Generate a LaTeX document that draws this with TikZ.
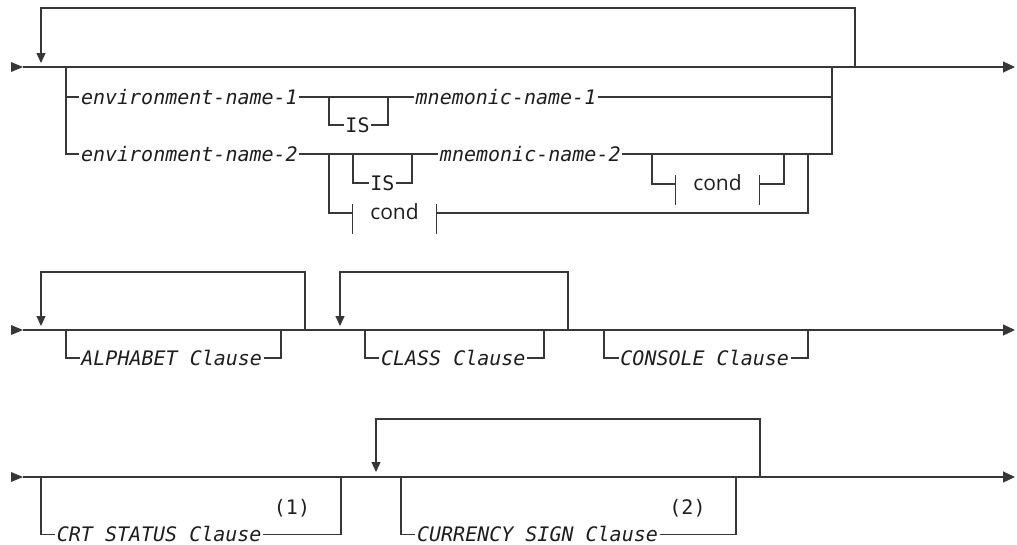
\documentclass[tikz,border=0pt]{standalone}
\usepackage{fontspec}
\usetikzlibrary{arrows.meta}
\newfontfamily\synmono{DejaVu Sans Mono}
\newfontfamily\synsans{Open Sans}
\definecolor{railc}{RGB}{55,55,55}
\definecolor{textc}{RGB}{30,30,30}
\tikzset{
  rail/.style={draw=railc,line width=1.2pt},
  endarrow/.style={-{Triangle[width=11pt,length=12pt]}},
  looparrow/.style={-{Triangle[width=9pt,length=10pt]}},
  varlbl/.style={font=\synmono\fontsize{20}{24}\selectfont\itshape, text=textc,
    inner xsep=1.5pt, inner ysep=0pt, text height=14pt, text depth=0pt},
  kwlbl/.style={varlbl, font=\synmono\fontsize{20}{24}\selectfont},
  condlbl/.style={font=\synsans\fontsize{21}{25}\selectfont, text=textc,
    inner xsep=0pt, inner ysep=0pt, minimum width=84pt, text height=13pt, text depth=0pt},
  notelbl/.style={font=\synmono\fontsize{20}{24}\selectfont, text=textc, inner sep=0pt, anchor=base},
}
\begin{document}
\begin{tikzpicture}[x=1pt,y=-1pt]
\useasboundingbox (0,0) rectangle (1017,544);
% ---------------- Row 1 ----------------
\coordinate (s1) at (23,67);
\coordinate (e1) at (1015,67);
\coordinate (lp1r) at (855,67);
\coordinate (lp1t) at (855,8);
\coordinate (lp1a) at (41,63);
\coordinate (b1l) at (66,67);
\coordinate (b1m) at (66,97);
\coordinate (b1r) at (832,67);
\coordinate (b1rm) at (832,97);
\coordinate (is1l) at (329,97);
\coordinate (is1r) at (388,97);
\coordinate (is2l) at (353,154);
\coordinate (is2r) at (412,154);
\coordinate (c1l) at (652,154);
\coordinate (c1r) at (784,154);
\coordinate (c2l) at (329,154);
\coordinate (c2r) at (808,154);

\fill[railc] (s1) -- ++(-12,-5) -- ++(0,10) -- cycle;
\draw[rail,endarrow] (s1) -- (e1);
\draw[rail,looparrow] (lp1r) -- (lp1t) -| (lp1a);

\node[varlbl] (env1) at (189.4,97) {environment-name-1};
\node[kwlbl] (is1) at (357.5,125) {IS};
\node[varlbl] (mn1) at (506,97) {mnemonic-name-1};
\node[varlbl] (env2) at (189.4,154) {environment-name-2};
\node[kwlbl] (is2) at (382.3,183) {IS};
\node[varlbl] (mn2) at (530.3,154) {mnemonic-name-2};
\node[condlbl] (c1) at (717.5,184) {cond};
\node[condlbl] (c2) at (394.5,213) {cond};

\draw[rail] (b1l) |- (env2.west);
\draw[rail] (b1m) -- (env1.west);
\draw[rail] (env1.east) -- (mn1.west);
\draw[rail] (mn1.east) -| (b1r);
\draw[rail] (is1l) |- (is1.west);
\draw[rail] (is1.east) -| (is1r);
\draw[rail] (env2.east) -- (mn2.west);
\draw[rail] (mn2.east) -| (b1rm);
\draw[rail] (is2l) |- (is2.west);
\draw[rail] (is2.east) -| (is2r);
\draw[rail] (c1l) |- (c1.west);
\draw[rail] (c1.east) -| (c1r);
\draw[rail] (c1.west) ++(0,-9) -- ++(0,30);
\draw[rail] (c1.east) ++(0,-9) -- ++(0,30);
\draw[rail] (c2l) |- (c2.west);
\draw[rail] (c2.east) -| (c2r);
\draw[rail] (c2.west) ++(0,-9) -- ++(0,30);
\draw[rail] (c2.east) ++(0,-9) -- ++(0,30);

% ---------------- Row 2 ----------------
\coordinate (s2) at (23,330);
\coordinate (e2) at (1015,330);
\coordinate (lp2r) at (305,330);
\coordinate (lp2t) at (305,272);
\coordinate (lp2a) at (41,326);
\coordinate (lp3r) at (568,330);
\coordinate (lp3t) at (568,272);
\coordinate (lp3a) at (340,326);
\coordinate (alphl) at (66,330);
\coordinate (alphr) at (281,330);
\coordinate (clsl) at (365,330);
\coordinate (clsr) at (544,330);
\coordinate (conl) at (604,330);
\coordinate (conr) at (808,330);

\fill[railc] (s2) -- ++(-12,-5) -- ++(0,10) -- cycle;
\draw[rail,endarrow] (s2) -- (e2);
\draw[rail,looparrow] (lp2r) -- (lp2t) -| (lp2a);
\draw[rail,looparrow] (lp3r) -- (lp3t) -| (lp3a);

\node[varlbl] (alph) at (171.7,358) {ALPHABET Clause};
\node[varlbl] (cls) at (453.3,358) {CLASS Clause};
\node[varlbl] (con) at (704.7,358) {CONSOLE Clause};

\draw[rail] (alphl) |- (alph.west);
\draw[rail] (alph.east) -| (alphr);
\draw[rail] (clsl) |- (cls.west);
\draw[rail] (cls.east) -| (clsr);
\draw[rail] (conl) |- (con.west);
\draw[rail] (con.east) -| (conr);

% ---------------- Row 3 ----------------
\coordinate (s3) at (23,477);
\coordinate (e3) at (1015,477);
\coordinate (lp4r) at (760,477);
\coordinate (lp4t) at (760,419);
\coordinate (lp4a) at (376,472);
\coordinate (crtl) at (41,477);
\coordinate (crtr) at (341,477);
\coordinate (curl) at (401,477);
\coordinate (curr) at (736,477);

\fill[railc] (s3) -- ++(-12,-5) -- ++(0,10) -- cycle;
\draw[rail,endarrow] (s3) -- (e3);
\draw[rail,looparrow] (lp4r) -- (lp4t) -| (lp4a);

\node[varlbl] (crt) at (159.2,534.5) {CRT STATUS Clause};
\node[varlbl] (cur) at (537.5,534.5) {CURRENCY SIGN Clause};
\node[notelbl] (n1) at (292,514) {(1)};
\node[notelbl] (n2) at (687.5,514) {(2)};

\draw[rail] (crtl) |- (crt.west);
\draw[rail] (crt.east) -| (crtr);
\draw[rail] (curl) |- (cur.west);
\draw[rail] (cur.east) -| (curr);
\end{tikzpicture}
\end{document}
